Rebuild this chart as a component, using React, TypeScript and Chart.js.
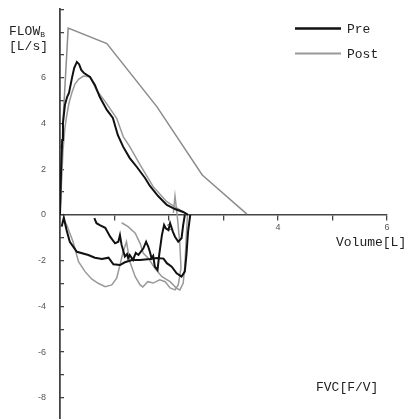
import React, { useEffect, useRef } from 'react';
import { Chart, registerables } from 'chart.js';

Chart.register(...registerables);

type P = [number, number];

// Volume [L], Flow [L/s]
const preExpiratory: P[] = [
  [0, 0], [0.02, 1.97], [0.04, 3.28], [0.055, 4.03], [0.09, 4.81], [0.13, 5.16], [0.165, 5.34],
  [0.22, 6.0], [0.26, 6.43], [0.31, 6.7], [0.35, 6.6], [0.39, 6.35], [0.44, 6.21], [0.55, 6.04],
  [0.64, 5.69], [0.73, 5.16], [0.86, 4.6], [0.97, 4.25], [1.06, 3.5], [1.16, 2.98], [1.28, 2.49],
  [1.41, 2.1], [1.56, 1.62], [1.65, 1.27], [1.8, 0.83], [1.96, 0.44], [2.11, 0.26], [2.26, 0.13], [2.35, 0],
];

const preInspiratory1: P[] = [
  [0.03, -0.51], [0.07, -0.12], [0.12, -0.66], [0.18, -1.17], [0.31, -1.61], [0.52, -1.75],
  [0.64, -1.87], [0.77, -1.93], [0.89, -1.87], [0.98, -2.16], [1.1, -2.19], [1.19, -2.07],
  [1.32, -1.97], [1.47, -1.97], [1.65, -1.93], [1.78, -1.88], [1.9, -1.91], [1.96, -2.11],
  [2.05, -2.26], [2.14, -2.55], [2.23, -2.7], [2.29, -2.48], [2.32, -1.75], [2.35, -0.73], [2.39, 0],
];

const preInspiratory2: P[] = [
  [0.63, -0.14], [0.67, -0.36], [0.73, -0.44], [0.83, -0.56], [0.92, -0.95], [1.01, -1.24],
  [1.07, -1.17], [1.1, -0.88], [1.13, -1.31], [1.19, -1.82], [1.23, -1.71], [1.25, -1.89],
  [1.28, -1.75], [1.34, -1.97], [1.39, -1.66], [1.44, -1.75], [1.53, -1.46], [1.58, -1.17],
  [1.62, -1.39], [1.65, -1.62], [1.68, -1.89], [1.71, -1.79], [1.74, -2.26], [1.79, -2.41],
  [1.82, -1.75], [1.87, -0.88], [1.91, -0.44], [1.94, -0.58], [1.99, -0.66], [2.02, -0.36],
  [2.07, -0.73], [2.11, -0.95], [2.17, -1.17], [2.23, -1.02], [2.26, -0.44], [2.29, 0],
];

const postExpiratory: P[] = [
  [0, 0], [0.03, 1.53], [0.055, 2.84], [0.09, 3.81], [0.12, 4.3], [0.165, 4.9], [0.215, 5.33],
  [0.275, 5.73], [0.34, 5.94], [0.43, 6.08], [0.55, 6.05], [0.67, 5.47], [0.83, 4.96], [1.04, 4.23],
  [1.16, 3.43], [1.28, 2.99], [1.47, 2.19], [1.71, 1.24], [1.96, 0.58], [2.11, 0.35], [2.26, 0.14], [2.33, 0.04],
];

const postInspiratory1: P[] = [
  [0.04, -0.31], [0.07, -0.18], [0.13, -0.48], [0.24, -1.17], [0.34, -2.04], [0.46, -2.48],
  [0.58, -2.8], [0.7, -2.99], [0.83, -3.14], [0.95, -3.06], [1.04, -2.77], [1.1, -2.19],
  [1.16, -1.61], [1.22, -1.17], [1.28, -2.04], [1.38, -2.7], [1.47, -3.06], [1.52, -3.15],
  [1.61, -2.92], [1.71, -2.98], [1.83, -2.84], [1.93, -2.92], [2.02, -3.19], [2.11, -3.28],
  [2.17, -3.06], [2.22, -2.32], [2.2, -1.31], [2.15, 0], [2.11, 0.83], [2.08, 0.09],
];

const postInspiratory2: P[] = [
  [1.13, -0.34], [1.25, -0.51], [1.38, -0.8], [1.47, -1.24], [1.53, -1.68], [1.62, -1.89],
  [1.74, -2.33], [1.87, -2.7], [2.02, -2.92], [2.14, -3.21], [2.2, -3.28], [2.26, -2.99],
  [2.29, -2.26], [2.32, -0.8], [2.34, 0.04],
];

const predictedCurve: P[] = [
  [0, 0], [0.055, 4.1], [0.15, 8.18], [0.86, 7.5], [1.78, 4.73], [2.61, 1.75], [3.43, 0.04],
];

const xTickLabels = [2, 4, 6];
const yTickLabels = [-8, -6, -4, -2, 0, 2, 4, 6];
const legendLabels = ['Pre', 'Post'];

const PRE_COLOR = '#111111';
const POST_COLOR = '#999999';
const AXIS_COLOR = '#444444';
const MONO = '"Liberation Mono", "DejaVu Sans Mono", monospace';

const toXY = (arr: P[]) => arr.map(([x, y]) => ({ x, y }));

const textPlugin = {
  id: 'fvText',
  afterDraw(chart: any) {
    const ctx = chart.ctx as CanvasRenderingContext2D;
    ctx.save();
    ctx.fillStyle = '#222';
    ctx.textBaseline = 'alphabetic';
    ctx.textAlign = 'left';
    ctx.font = `13px ${MONO}`;
    ctx.fillText('FLOW', 9, 35);
    const w = ctx.measureText('FLOW').width;
    ctx.fillText('[L/s]', 9, 50);
    ctx.fillText('Volume[L]', 336, 246);
    ctx.fillText('FVC[F/V]', 316, 391);
    ctx.font = `8px ${MONO}`;
    ctx.fillText('B', 9 + w, 37);

    // legend
    const entries = legendLabels.map((lab) => chart.data.datasets.find((d: any) => d.label === lab));
    const rows = [28.5, 53.5];
    entries.forEach((ds: any, i: number) => {
      if (!ds) return;
      const y = rows[i];
      ctx.strokeStyle = ds.borderColor;
      ctx.lineWidth = i === 0 ? 2.5 : 2;
      ctx.beginPath();
      ctx.moveTo(295, y);
      ctx.lineTo(341, y);
      ctx.stroke();
      ctx.font = `13px ${MONO}`;
      ctx.fillStyle = '#222';
      ctx.fillText(ds.label, 347, y + 4.5);
    });
    ctx.restore();
  },
};

export default function App() {
  const ref = useRef<HTMLCanvasElement | null>(null);

  useEffect(() => {
    if (!ref.current) return;
    const line = (label: string, data: P[], color: string, width: number) => ({
      label,
      data: toXY(data),
      borderColor: color,
      backgroundColor: color,
      borderWidth: width,
      showLine: true,
      pointRadius: 0,
      tension: 0,
      fill: false,
    });
    const chart = new Chart(ref.current, {
      type: 'scatter',
      data: {
        datasets: [
          line('Pre', preExpiratory, PRE_COLOR, 2),
          line('Pre insp 1', preInspiratory1, PRE_COLOR, 2),
          line('Pre insp 2', preInspiratory2, PRE_COLOR, 2),
          line('Post', postExpiratory, POST_COLOR, 1.5),
          line('Post insp 1', postInspiratory1, POST_COLOR, 1.5),
          line('Post insp 2', postInspiratory2, POST_COLOR, 1.5),
          line('Predicted', predictedCurve, '#8c8c8c', 1.5),
        ] as any,
      },
      options: {
        animation: false,
        responsive: false,
        devicePixelRatio: 1,
        layout: { padding: { left: 0, right: 25, top: 9.35, bottom: 1.4 } },
        plugins: { legend: { display: false }, tooltip: { enabled: false }, title: { display: false } },
        scales: {
          x: {
            type: 'linear',
            position: { y: 0 } as any,
            min: 0,
            max: 6,
            grid: { drawOnChartArea: false, color: AXIS_COLOR, lineWidth: 1.3, tickLength: 5 },
            border: { display: true, color: AXIS_COLOR, width: 1.5 },
            ticks: {
              stepSize: 1,
              autoSkip: false,
              maxRotation: 0,
              padding: 2,
              color: '#555',
              font: { family: '"Liberation Sans", Arial, sans-serif', size: 9 },
              callback: (v: any) => (xTickLabels.includes(Number(v)) ? String(v) : ''),
            },
          },
          y: {
            type: 'linear',
            position: 'left',
            min: -9,
            max: 9,
            afterFit: (s: any) => {
              s.width = 60;
              s.paddingTop = 0;
              s.paddingBottom = 0;
            },
            grid: { drawOnChartArea: false, color: AXIS_COLOR, lineWidth: 1.3, tickLength: -4 },
            border: { display: true, color: AXIS_COLOR, width: 1.8 },
            ticks: {
              stepSize: 1,
              autoSkip: false,
              padding: 18,
              color: '#555',
              font: { family: '"Liberation Sans", Arial, sans-serif', size: 9 },
              callback: (v: any) => (yTickLabels.includes(Number(v)) ? String(v) : ''),
            },
          },
        },
      },
      plugins: [textPlugin],
    });
    return () => chart.destroy();
  }, []);

  return (
    <div style={{ position: 'fixed', left: 0, top: 0, width: 412, height: 419, overflow: 'hidden', background: '#fff' }}>
      <canvas ref={ref} width={412} height={422} style={{ display: 'block', width: 412, height: 422 }} />
    </div>
  );
}
